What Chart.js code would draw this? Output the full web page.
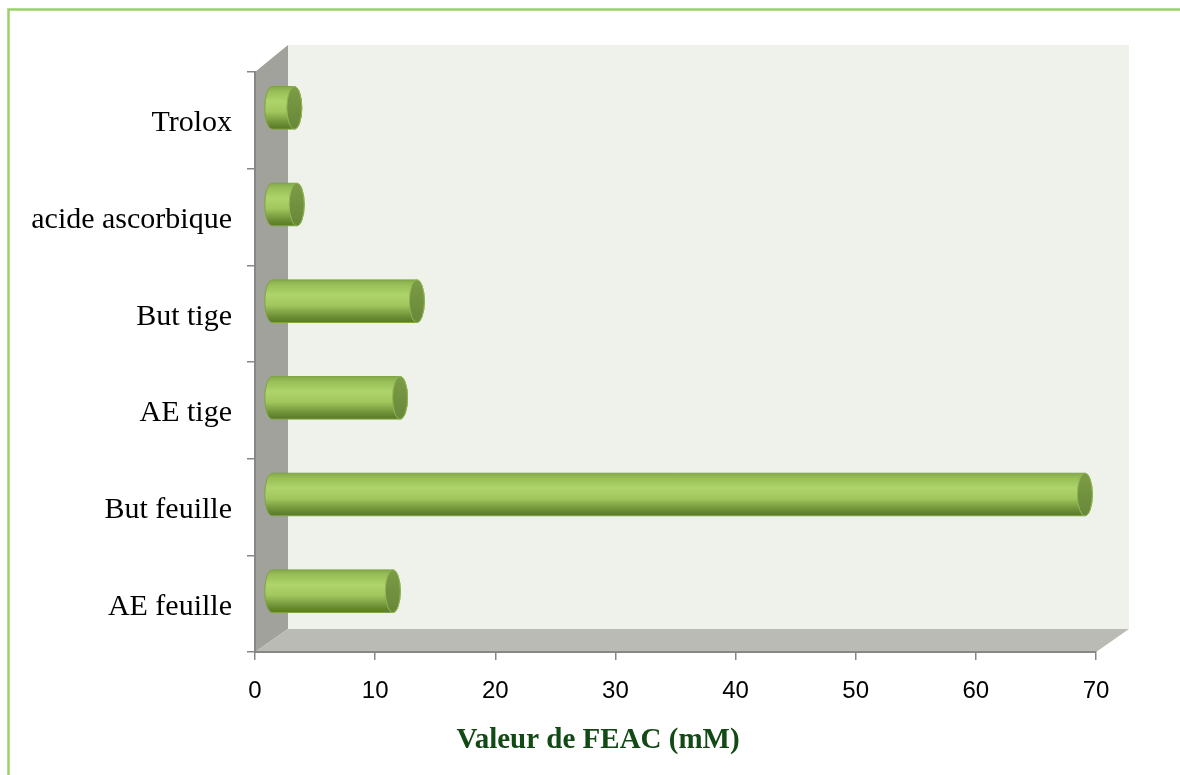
<!DOCTYPE html>
<html>
<head>
<meta charset="utf-8">
<script src="https://cdn.jsdelivr.net/npm/chart.js@4.4.1/dist/chart.umd.min.js"></script>
<style>
  html, body { margin: 0; padding: 0; background: #ffffff; }
  #wrap { width: 1180px; height: 775px; }
</style>
</head>
<body>
<div id="wrap"><canvas id="feacChart" width="1180" height="775"></canvas></div>
<script>
// Valeurs FEAC (mM) par extrait
const categories = ['AE feuille', 'But feuille', 'AE tige', 'But tige', 'acide ascorbique', 'Trolox'];
const feacValues = [10.1, 67.7, 10.7, 12.1, 2.1, 1.9];
const xTicks = [0, 10, 20, 30, 40, 50, 60, 70];
const axisTitle = 'Valeur de FEAC (mM)';

// profondeur de la "boite" 3D (le haut fuit un peu plus que le bas)
const DEPTH_X = 33;
const DEPTH_Y_TOP = -27;
const DEPTH_Y_BOTTOM = -23;

const axisGray = '#878787';

// cadre vert + murs + sol
const wallsPlugin = {
  id: 'walls',
  beforeDraw(chart) {
    const ctx = chart.ctx;
    const a = chart.chartArea;
    const bx = a.left + DEPTH_X;
    const bTop = a.top + DEPTH_Y_TOP;
    const bBottom = a.bottom + DEPTH_Y_BOTTOM;
    ctx.save();
    ctx.strokeStyle = '#9bd268';
    ctx.lineWidth = 2.5;
    ctx.strokeRect(8.5, 9.5, 1200, 800);

    // mur du fond
    ctx.fillStyle = '#eff2eb';
    ctx.fillRect(bx, bTop, a.right - a.left, bBottom - bTop);

    // mur de gauche
    ctx.fillStyle = '#a0a29b';
    ctx.beginPath();
    ctx.moveTo(a.left, a.top);
    ctx.lineTo(bx, bTop);
    ctx.lineTo(bx, bBottom);
    ctx.lineTo(a.left, a.bottom);
    ctx.closePath();
    ctx.fill();

    // sol
    ctx.fillStyle = '#b9bbb4';
    ctx.beginPath();
    ctx.moveTo(a.left, a.bottom);
    ctx.lineTo(bx, bBottom);
    ctx.lineTo(a.right + DEPTH_X, bBottom);
    ctx.lineTo(a.right, a.bottom);
    ctx.closePath();
    ctx.fill();
    ctx.restore();
  },
  afterDraw(chart) {
    const ctx = chart.ctx;
    ctx.save();
    ctx.fillStyle = '#114a14';
    ctx.font = 'bold 29px "Liberation Serif", "Times New Roman", serif';
    ctx.textAlign = 'center';
    ctx.textBaseline = 'middle';
    ctx.fillText(axisTitle, 598, 741);
    ctx.restore();
  }
};

function drawCylinder(ctx, x0, x1, yc, h) {
  const ry = h / 2;
  const rx = 7.5;
  const top = yc - ry;

  const body = ctx.createLinearGradient(0, top, 0, top + h);
  body.addColorStop(0, '#86aa4a');
  body.addColorStop(0.12, '#98bf58');
  body.addColorStop(0.35, '#aed46b');
  body.addColorStop(0.6, '#a0c65d');
  body.addColorStop(0.85, '#6f9138');
  body.addColorStop(1, '#587826');

  ctx.beginPath();
  ctx.moveTo(x1, top);
  ctx.lineTo(x0, top);
  ctx.ellipse(x0, yc, rx, ry, 0, -Math.PI / 2, Math.PI / 2, true);
  ctx.lineTo(x1, yc + ry);
  ctx.ellipse(x1, yc, rx, ry, 0, Math.PI / 2, -Math.PI / 2, true);
  ctx.closePath();
  ctx.fillStyle = body;
  ctx.fill();
  ctx.strokeStyle = '#7ea442';
  ctx.lineWidth = 1;
  ctx.stroke();

  // bout du cylindre
  const cap = ctx.createLinearGradient(0, top, 0, top + h);
  cap.addColorStop(0, '#7c9c46');
  cap.addColorStop(1, '#68873a');
  ctx.beginPath();
  ctx.ellipse(x1, yc, rx, ry, 0, 0, Math.PI * 2);
  ctx.fillStyle = cap;
  ctx.fill();
  ctx.strokeStyle = '#8fb851';
  ctx.stroke();
}

const cylinderPlugin = {
  id: 'cylinders',
  afterDatasetsDraw(chart) {
    const ctx = chart.ctx;
    const meta = chart.getDatasetMeta(0);
    const dx = DEPTH_X / 2;
    const dy = (DEPTH_Y_TOP + DEPTH_Y_BOTTOM) / 4;
    ctx.save();
    meta.data.forEach(bar => {
      const p = bar.getProps(['x', 'y', 'base', 'height'], true);
      drawCylinder(ctx, p.base + dx, p.x + dx, p.y + dy, p.height);
    });
    ctx.restore();
  }
};

const ctx = document.getElementById('feacChart').getContext('2d');
new Chart(ctx, {
  type: 'bar',
  data: {
    labels: categories,
    datasets: [{
      data: feacValues,
      backgroundColor: 'rgba(0,0,0,0)',
      borderWidth: 0,
      categoryPercentage: 1,
      barPercentage: 0.44
    }]
  },
  options: {
    indexAxis: 'y',
    responsive: false,
    animation: false,
    layout: { padding: { left: 0, top: 72, right: 84, bottom: 0 } },
    plugins: {
      legend: { display: false },
      tooltip: { enabled: false }
    },
    scales: {
      x: {
        min: xTicks[0],
        max: xTicks[xTicks.length - 1],
        afterFit(scale) { scale.height = 123; },
        afterBuildTicks(scale) { scale.ticks = xTicks.map(v => ({ value: v })); },
        grid: { drawOnChartArea: false, color: axisGray, tickLength: 8, lineWidth: 1.5 },
        border: { color: axisGray, width: 2 },
        ticks: {
          color: '#000000',
          padding: 17,
          font: { family: '"Liberation Sans", Arial, sans-serif', size: 24 }
        }
      },
      y: {
        reverse: true,
        afterFit(scale) { scale.width = 255; },
        grid: { drawOnChartArea: false, color: axisGray, tickLength: 8, lineWidth: 1.5, offset: true },
        border: { color: axisGray, width: 2 },
        ticks: {
          color: '#000000',
          padding: 15,
          labelOffset: 3,
          font: { family: '"Liberation Serif", "Times New Roman", serif', size: 30 }
        }
      }
    }
  },
  plugins: [wallsPlugin, cylinderPlugin]
});
</script>
</body>
</html>
